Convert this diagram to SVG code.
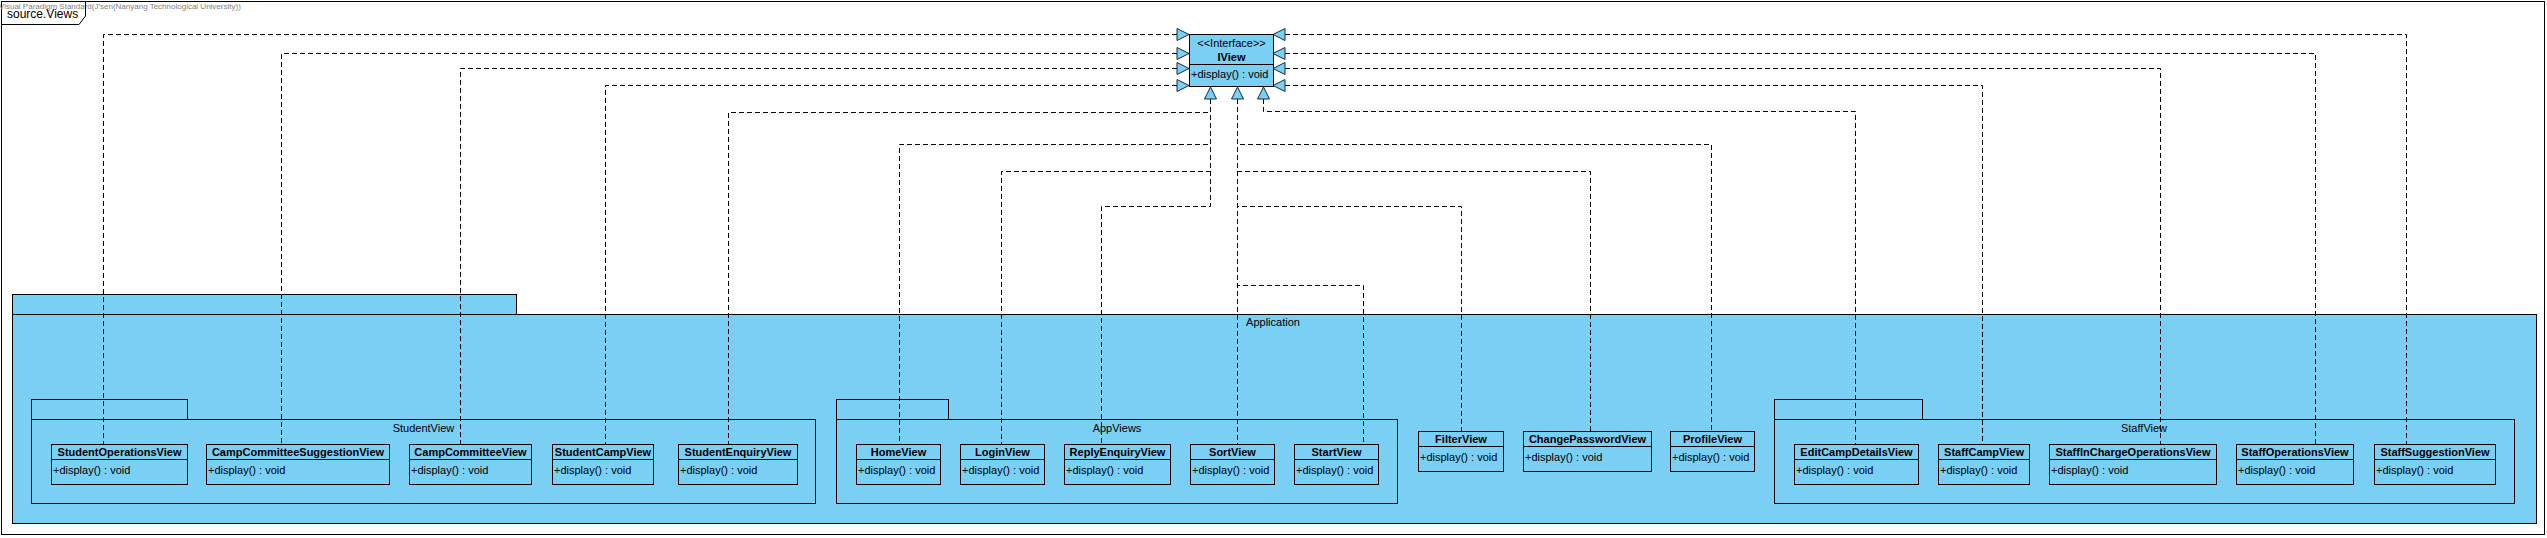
<svg xmlns="http://www.w3.org/2000/svg" width="2547" height="538" viewBox="0 0 2547 538">
<style>
text{font-family:"Liberation Sans",Arial,sans-serif;font-size:11px;fill:#000}
.pkg{fill:#7ACFF5;stroke:#000;stroke-width:1}
.cls{fill:#7ACFF5;stroke:#000;stroke-width:1}
.sep{stroke:#000;stroke-width:1}
.nm{font-weight:bold;text-anchor:middle}
.lbl{text-anchor:middle}
.con{fill:none;stroke:#000;stroke-width:1;stroke-dasharray:5,3}
.ah{fill:#7ACFF5;stroke:#1a2a3a;stroke-width:1}
</style>
<rect width="2547" height="538" fill="#fff"/>
<g id="frame">
<rect x="1.5" y="1.5" width="2543" height="533" fill="none" stroke="#000"/>
<text x="-1" y="8.5" style="font-size:8px;fill:#808080">Visual Paradigm Standard(J'sen(Nanyang Technological University))</text>
<path d="M1.5,24.5 H79 L85.5,16 V1.5" fill="none" stroke="#000"/>
<text x="7" y="17.5" style="font-size:12px">source.Views</text>
</g>
<g id="Application">
<rect class="pkg" x="12.5" y="294.5" width="504" height="20"/>
<rect class="pkg" x="12.5" y="314.5" width="2524" height="209"/>
<text class="lbl" x="1273" y="326">Application</text>
</g>
<g id="StudentView">
<rect class="pkg" x="31.5" y="399.5" width="156" height="20"/>
<rect class="pkg" x="31.5" y="419.5" width="784" height="84"/>
<text class="lbl" x="423.5" y="432">StudentView</text>
</g>
<g id="AppViews">
<rect class="pkg" x="836.5" y="399.5" width="112" height="20"/>
<rect class="pkg" x="836.5" y="419.5" width="561" height="84"/>
<text class="lbl" x="1117" y="432">AppViews</text>
</g>
<g id="StaffView">
<rect class="pkg" x="1774.5" y="399.5" width="148" height="20"/>
<rect class="pkg" x="1774.5" y="419.5" width="740" height="84"/>
<text class="lbl" x="2144" y="432">StaffView</text>
</g>
<g id="connectors">
<polyline class="con" points="1177,34.5 103.5,34.5 103.5,444"/>
<polyline class="con" points="1177,53.5 281.5,53.5 281.5,444"/>
<polyline class="con" points="1177,68.5 460.5,68.5 460.5,444"/>
<polyline class="con" points="1177,85.5 605.5,85.5 605.5,444"/>
<polyline class="con" points="1210.5,99 1210.5,112.5 728.5,112.5 728.5,444"/>
<polyline class="con" points="1210.5,99 1210.5,144.5 899.5,144.5 899.5,444"/>
<polyline class="con" points="1210.5,99 1210.5,171.5 1001.5,171.5 1001.5,444"/>
<polyline class="con" points="1210.5,99 1210.5,206.5 1101.5,206.5 1101.5,444"/>
<polyline class="con" points="1237.5,99 1237.5,444"/>
<polyline class="con" points="1237.5,99 1237.5,285.5 1363.5,285.5 1363.5,444"/>
<polyline class="con" points="1237.5,99 1237.5,206.5 1461.5,206.5 1461.5,431"/>
<polyline class="con" points="1237.5,99 1237.5,171.5 1590.5,171.5 1590.5,431"/>
<polyline class="con" points="1237.5,99 1237.5,144.5 1711.5,144.5 1711.5,431"/>
<polyline class="con" points="1263.5,99 1263.5,111.5 1855.5,111.5 1855.5,444"/>
<polyline class="con" points="1285,85.5 1982.5,85.5 1982.5,444"/>
<polyline class="con" points="1285,68.5 2160.5,68.5 2160.5,444"/>
<polyline class="con" points="1285,53.5 2315.5,53.5 2315.5,444"/>
<polyline class="con" points="1285,34.5 2406.5,34.5 2406.5,444"/>
<polygon class="ah" points="1189,34.5 1177,28.5 1177,40.5"/>
<polygon class="ah" points="1189,53.5 1177,47.5 1177,59.5"/>
<polygon class="ah" points="1189,68.5 1177,62.5 1177,74.5"/>
<polygon class="ah" points="1189,85.5 1177,79.5 1177,91.5"/>
<polygon class="ah" points="1273,34.5 1285,28.5 1285,40.5"/>
<polygon class="ah" points="1273,53.5 1285,47.5 1285,59.5"/>
<polygon class="ah" points="1273,68.5 1285,62.5 1285,74.5"/>
<polygon class="ah" points="1273,85.5 1285,79.5 1285,91.5"/>
<polygon class="ah" points="1210.5,87 1204.5,99 1216.5,99"/>
<polygon class="ah" points="1237.5,87 1231.5,99 1243.5,99"/>
<polygon class="ah" points="1263.5,87 1257.5,99 1269.5,99"/>
</g>
<g id="IView">
<rect class="cls" x="1189.5" y="34.5" width="84" height="52"/>
<line class="sep" x1="1189.5" y1="64.5" x2="1273.5" y2="64.5"/>
<text class="lbl" x="1231.5" y="47">&lt;&lt;Interface&gt;&gt;</text>
<text class="nm" x="1231.5" y="61">IView</text>
<text x="1191" y="78">+display() : void</text>
</g>
<g id="StudentOperationsView">
<rect class="cls" x="51.5" y="444.5" width="136" height="40"/><line class="sep" x1="51.5" y1="459.5" x2="187.5" y2="459.5"/>
<text class="nm" x="119.5" y="456">StudentOperationsView</text><text x="53" y="473.5">+display() : void</text>
</g>
<g id="CampCommitteeSuggestionView">
<rect class="cls" x="206.5" y="444.5" width="183" height="40"/><line class="sep" x1="206.5" y1="459.5" x2="389.5" y2="459.5"/>
<text class="nm" x="298" y="456">CampCommitteeSuggestionView</text><text x="208" y="473.5">+display() : void</text>
</g>
<g id="CampCommitteeView">
<rect class="cls" x="409.5" y="444.5" width="122" height="40"/><line class="sep" x1="409.5" y1="459.5" x2="531.5" y2="459.5"/>
<text class="nm" x="470.5" y="456">CampCommitteeView</text><text x="411" y="473.5">+display() : void</text>
</g>
<g id="StudentCampView">
<rect class="cls" x="552.5" y="444.5" width="101" height="40"/><line class="sep" x1="552.5" y1="459.5" x2="653.5" y2="459.5"/>
<text class="nm" x="603" y="456">StudentCampView</text><text x="554" y="473.5">+display() : void</text>
</g>
<g id="StudentEnquiryView">
<rect class="cls" x="678.5" y="444.5" width="119" height="40"/><line class="sep" x1="678.5" y1="459.5" x2="797.5" y2="459.5"/>
<text class="nm" x="738" y="456">StudentEnquiryView</text><text x="680" y="473.5">+display() : void</text>
</g>
<g id="HomeView">
<rect class="cls" x="856.5" y="444.5" width="84" height="40"/><line class="sep" x1="856.5" y1="459.5" x2="940.5" y2="459.5"/>
<text class="nm" x="898.5" y="456">HomeView</text><text x="858" y="473.5">+display() : void</text>
</g>
<g id="LoginView">
<rect class="cls" x="960.5" y="444.5" width="84" height="40"/><line class="sep" x1="960.5" y1="459.5" x2="1044.5" y2="459.5"/>
<text class="nm" x="1002.5" y="456">LoginView</text><text x="962" y="473.5">+display() : void</text>
</g>
<g id="ReplyEnquiryView">
<rect class="cls" x="1064.5" y="444.5" width="106" height="40"/><line class="sep" x1="1064.5" y1="459.5" x2="1170.5" y2="459.5"/>
<text class="nm" x="1117.5" y="456">ReplyEnquiryView</text><text x="1066" y="473.5">+display() : void</text>
</g>
<g id="SortView">
<rect class="cls" x="1190.5" y="444.5" width="84" height="40"/><line class="sep" x1="1190.5" y1="459.5" x2="1274.5" y2="459.5"/>
<text class="nm" x="1232.5" y="456">SortView</text><text x="1192" y="473.5">+display() : void</text>
</g>
<g id="StartView">
<rect class="cls" x="1294.5" y="444.5" width="84" height="40"/><line class="sep" x1="1294.5" y1="459.5" x2="1378.5" y2="459.5"/>
<text class="nm" x="1336.5" y="456">StartView</text><text x="1296" y="473.5">+display() : void</text>
</g>
<g id="FilterView">
<rect class="cls" x="1418.5" y="431.5" width="85" height="40"/><line class="sep" x1="1418.5" y1="446.5" x2="1503.5" y2="446.5"/>
<text class="nm" x="1461" y="443">FilterView</text><text x="1420" y="460.5">+display() : void</text>
</g>
<g id="ChangePasswordView">
<rect class="cls" x="1523.5" y="431.5" width="128" height="40"/><line class="sep" x1="1523.5" y1="446.5" x2="1651.5" y2="446.5"/>
<text class="nm" x="1587.5" y="443">ChangePasswordView</text><text x="1525" y="460.5">+display() : void</text>
</g>
<g id="ProfileView">
<rect class="cls" x="1670.5" y="431.5" width="84" height="40"/><line class="sep" x1="1670.5" y1="446.5" x2="1754.5" y2="446.5"/>
<text class="nm" x="1712.5" y="443">ProfileView</text><text x="1672" y="460.5">+display() : void</text>
</g>
<g id="EditCampDetailsView">
<rect class="cls" x="1794.5" y="444.5" width="124" height="40"/><line class="sep" x1="1794.5" y1="459.5" x2="1918.5" y2="459.5"/>
<text class="nm" x="1856.5" y="456">EditCampDetailsView</text><text x="1796" y="473.5">+display() : void</text>
</g>
<g id="StaffCampView">
<rect class="cls" x="1938.5" y="444.5" width="91" height="40"/><line class="sep" x1="1938.5" y1="459.5" x2="2029.5" y2="459.5"/>
<text class="nm" x="1984" y="456">StaffCampView</text><text x="1940" y="473.5">+display() : void</text>
</g>
<g id="StaffInChargeOperationsView">
<rect class="cls" x="2049.5" y="444.5" width="167" height="40"/><line class="sep" x1="2049.5" y1="459.5" x2="2216.5" y2="459.5"/>
<text class="nm" x="2133" y="456">StaffInChargeOperationsView</text><text x="2051" y="473.5">+display() : void</text>
</g>
<g id="StaffOperationsView">
<rect class="cls" x="2236.5" y="444.5" width="117" height="40"/><line class="sep" x1="2236.5" y1="459.5" x2="2353.5" y2="459.5"/>
<text class="nm" x="2295" y="456">StaffOperationsView</text><text x="2238" y="473.5">+display() : void</text>
</g>
<g id="StaffSuggestionView">
<rect class="cls" x="2374.5" y="444.5" width="121" height="40"/><line class="sep" x1="2374.5" y1="459.5" x2="2495.5" y2="459.5"/>
<text class="nm" x="2435" y="456">StaffSuggestionView</text><text x="2376" y="473.5">+display() : void</text>
</g>
</svg>
